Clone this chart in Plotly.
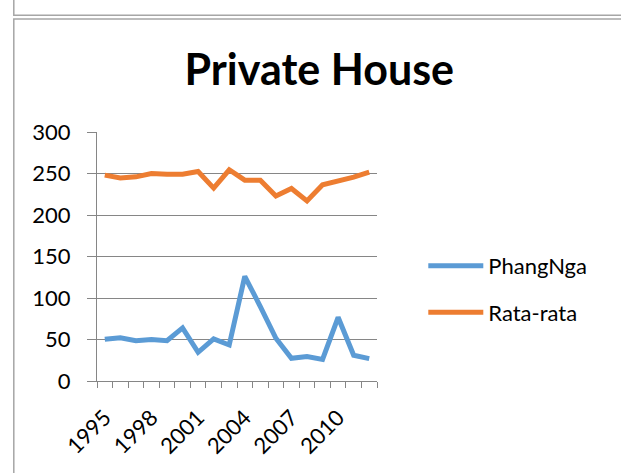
import plotly.graph_objects as go

years = list(range(1995, 2013))
phangnga = [50.3, 52, 48.6, 50, 48.6, 64, 34.6, 50.7, 43.4, 126, 89.7, 51.5, 27.3, 29.4, 26, 76.8, 31, 27]
rata_rata = [248, 244.5, 246, 250, 249, 249, 252.5, 232.4, 254.5, 242, 242, 222.8, 232, 217, 236.4, 240.5, 245.7, 251.7]
label_years = [1995, 1998, 2001, 2004, 2007, 2010]
y_ticks = [0, 50, 100, 150, 200, 250, 300]

W, H = 621, 473
L, R, T, B = 96.7, 376.7, 132.3, 381.0
FONT = "Lato"

def px(x):
    return (x - L) / (R - L)

def py(y):
    return (B - y) / (B - T)

fig = go.Figure()
fig.add_trace(go.Scatter(x=years, y=phangnga, mode="lines", name="PhangNga",
                         line=dict(color="#5B9BD5", width=5, shape="linear"),
                         legendgroup="a"))
fig.add_trace(go.Scatter(x=years, y=rata_rata, mode="lines", name="Rata-rata",
                         line=dict(color="#ED7D31", width=5, shape="linear"),
                         legendgroup="b"))

border = dict(color="#a6a6a6", width=1.5)
fig.update_layout(
    width=W, height=H,
    margin=dict(l=L, r=W - R, t=T, b=H - B, autoexpand=False),
    paper_bgcolor="white", plot_bgcolor="white",
    font=dict(family=FONT, size=22, color="black"),
    title=dict(text="<b>Private House</b>", x=px(319), xref="paper", xanchor="center",
               y=1 - 70 / H, yref="container", yanchor="middle",
               font=dict(family=FONT, size=43, color="black")),
    showlegend=True,
    legend=dict(x=px(423), y=py(245), xanchor="left", yanchor="top",
                font=dict(family=FONT, size=22), tracegroupgap=15,
                itemwidth=55, bgcolor="rgba(0,0,0,0)"),
    xaxis=dict(range=[1994.5, 2012.5], tickmode="array", tickvals=label_years,
               ticktext=[str(v) for v in label_years], tickangle=-45, ticks="",
               showgrid=False, showline=True, linecolor="#868686", linewidth=1,
               zeroline=False, ticklabelstandoff=14,
               minor=dict(tickmode="linear", tick0=1994.5, dtick=1, ticks="outside",
                          ticklen=6, tickcolor="#868686", tickwidth=1, showgrid=False),
               tickfont=dict(family=FONT, size=22)),
    yaxis=dict(range=[0, 300], tickmode="array", tickvals=y_ticks, ticks="outside",
               ticklen=9, tickcolor="#868686", tickwidth=1,
               showgrid=True, gridcolor="#868686", gridwidth=1,
               showline=True, linecolor="#868686", linewidth=1, zeroline=False,
               ticklabelstandoff=12,
               tickfont=dict(family=FONT, size=22)),
    shapes=[
        dict(type="rect", xref="paper", yref="paper",
             x0=px(13.5), x1=px(640), y0=py(15.7), y1=py(-20), line=border, layer="below"),
        dict(type="rect", xref="paper", yref="paper",
             x0=px(13.5), x1=px(640), y0=py(19.5), y1=py(490), line=border, layer="below"),
    ],
)

fig.write_html("out.html", config={"displayModeBar": False},
               post_script="document.body.style.margin='0';document.body.style.overflow='hidden';")
